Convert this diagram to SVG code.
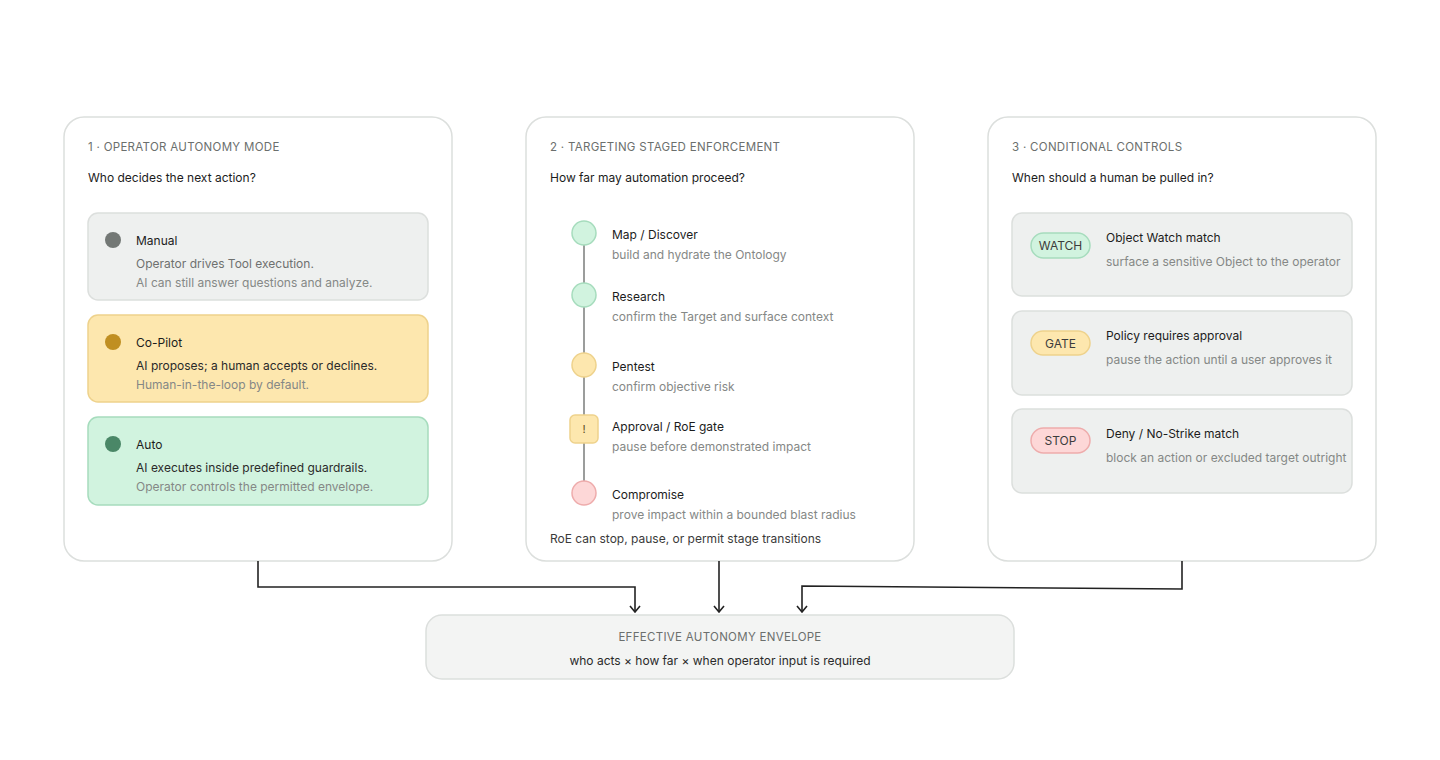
<svg xmlns="http://www.w3.org/2000/svg" width="1440" height="760" viewBox="0 0 1440 760">
<style>
text{font-family:Inter,"Noto Sans","Liberation Sans",sans-serif;}
.panel{fill:#fff;stroke:#dcdfdd;stroke-width:1.5;}
.hd{font-size:11.5px;fill:#6b6f6d;letter-spacing:0.3px;}
.q{font-size:12px;fill:#1c1c1c;}
.t{font-size:12px;fill:#1c1c1c;}
.d{font-size:12px;fill:#2a2a2a;}
.s{font-size:12px;fill:#858886;}
.grey{fill:#eef0ef;stroke:#dcdfdd;stroke-width:1.5;}
.yel{fill:#fde7ae;stroke:#eed28c;stroke-width:1.5;}
.grn{fill:#d1f3df;stroke:#a6dcbd;stroke-width:1.5;}
.red{fill:#fdd7d7;stroke:#eeacac;stroke-width:1.5;}
.pill{font-size:12px;fill:#3c3c3c;text-anchor:middle;}
.conn{fill:none;stroke:#222;stroke-width:1.6;}
</style>
<defs>
<marker id="arr" viewBox="0 0 12 12" refX="11" refY="6" markerWidth="12" markerHeight="12" markerUnits="userSpaceOnUse" orient="auto">
<path d="M5,1 L11,6 L5,11" fill="none" stroke="#222" stroke-width="1.6"/>
</marker>
</defs>
<rect width="1440" height="760" fill="#fff"/>

<g id="panel-autonomy">
<rect class="panel" x="64" y="117" width="388" height="444" rx="20"/>
<text class="hd" x="88" y="151">1 · OPERATOR AUTONOMY MODE</text>
<text class="q" x="88" y="182">Who decides the next action?</text>
<g id="mode-manual">
<rect class="grey" x="88" y="213" width="340" height="87" rx="10"/>
<circle cx="113" cy="240" r="8" fill="#737875"/>
<text class="t" x="136" y="245">Manual</text>
<text class="s" x="136" y="268" style="fill:#6e716f">Operator drives Tool execution.</text>
<text class="s" x="136" y="287">AI can still answer questions and analyze.</text>
</g>
<g id="mode-copilot">
<rect class="yel" x="88" y="315" width="340" height="87" rx="10"/>
<circle cx="113" cy="342" r="8" fill="#c08f22"/>
<text class="t" x="136" y="347">Co-Pilot</text>
<text class="d" x="136" y="370">AI proposes; a human accepts or declines.</text>
<text class="s" x="136" y="389">Human-in-the-loop by default.</text>
</g>
<g id="mode-auto">
<rect class="grn" x="88" y="417" width="340" height="88" rx="10"/>
<circle cx="113" cy="444" r="8" fill="#4a8767"/>
<text class="t" x="136" y="449">Auto</text>
<text class="d" x="136" y="472">AI executes inside predefined guardrails.</text>
<text class="s" x="136" y="491">Operator controls the permitted envelope.</text>
</g>
</g>

<g id="panel-targeting">
<rect class="panel" x="526" y="117" width="388" height="444" rx="20"/>
<text class="hd" x="550" y="151">2 · TARGETING STAGED ENFORCEMENT</text>
<text class="q" x="550" y="182">How far may automation proceed?</text>
<line x1="584" y1="233" x2="584" y2="493" stroke="#9b9d9c" stroke-width="2"/>
<g id="stage-map">
<circle class="grn" cx="584" cy="233" r="12"/>
<text class="t" x="612" y="239">Map / Discover</text>
<text class="s" x="612" y="259">build and hydrate the Ontology</text>
</g>
<g id="stage-research">
<circle class="grn" cx="584" cy="295" r="12"/>
<text class="t" x="612" y="301">Research</text>
<text class="s" x="612" y="321">confirm the Target and surface context</text>
</g>
<g id="stage-pentest">
<circle class="yel" cx="584" cy="365" r="12"/>
<text class="t" x="612" y="371">Pentest</text>
<text class="s" x="612" y="391">confirm objective risk</text>
</g>
<g id="stage-gate">
<rect class="yel" x="570" y="415" width="28" height="28" rx="5"/>
<text x="584" y="433" font-size="11" fill="#5a4a20" text-anchor="middle">!</text>
<text class="t" x="612" y="431">Approval / RoE gate</text>
<text class="s" x="612" y="451">pause before demonstrated impact</text>
</g>
<g id="stage-compromise">
<circle class="red" cx="584" cy="493" r="12"/>
<text class="t" x="612" y="499">Compromise</text>
<text class="s" x="612" y="519">prove impact within a bounded blast radius</text>
</g>
<text class="d" x="550" y="543" style="fill:#3a3a3a">RoE can stop, pause, or permit stage transitions</text>
</g>

<g id="panel-controls">
<rect class="panel" x="988" y="117" width="388" height="444" rx="20"/>
<text class="hd" x="1012" y="151">3 · CONDITIONAL CONTROLS</text>
<text class="q" x="1012" y="182">When should a human be pulled in?</text>
<g id="ctrl-watch">
<rect class="grey" x="1012" y="213" width="340" height="83" rx="10"/>
<rect class="grn" x="1031" y="233" width="59" height="25" rx="12.5"/>
<text class="pill" x="1060.5" y="250">WATCH</text>
<text class="t" x="1106" y="242">Object Watch match</text>
<text class="s" x="1106" y="266">surface a sensitive Object to the operator</text>
</g>
<g id="ctrl-gate">
<rect class="grey" x="1012" y="311" width="340" height="84" rx="10"/>
<rect class="yel" x="1031" y="331" width="59" height="24" rx="12"/>
<text class="pill" x="1060.5" y="347.5">GATE</text>
<text class="t" x="1106" y="340">Policy requires approval</text>
<text class="s" x="1106" y="364">pause the action until a user approves it</text>
</g>
<g id="ctrl-stop">
<rect class="grey" x="1012" y="409" width="340" height="84" rx="10"/>
<rect class="red" x="1031" y="428" width="59" height="25" rx="12.5"/>
<text class="pill" x="1060.5" y="445">STOP</text>
<text class="t" x="1106" y="438">Deny / No-Strike match</text>
<text class="s" x="1106" y="462">block an action or excluded target outright</text>
</g>
</g>

<g id="envelope">
<rect x="426" y="615" width="588" height="64" rx="16" fill="#f3f4f3" stroke="#dcdfdd" stroke-width="1.5"/>
<text class="hd" x="720" y="641" text-anchor="middle">EFFECTIVE AUTONOMY ENVELOPE</text>
<text class="d" x="720" y="665" text-anchor="middle">who acts × how far × when operator input is required</text>
</g>

<g id="connectors">
<path class="conn" d="M258,561 V587 H635 V612" marker-end="url(#arr)"/>
<path class="conn" d="M719,561 V612" marker-end="url(#arr)"/>
<path class="conn" d="M1182,561 V589 L802,586 V612" marker-end="url(#arr)"/>
</g>
</svg>
